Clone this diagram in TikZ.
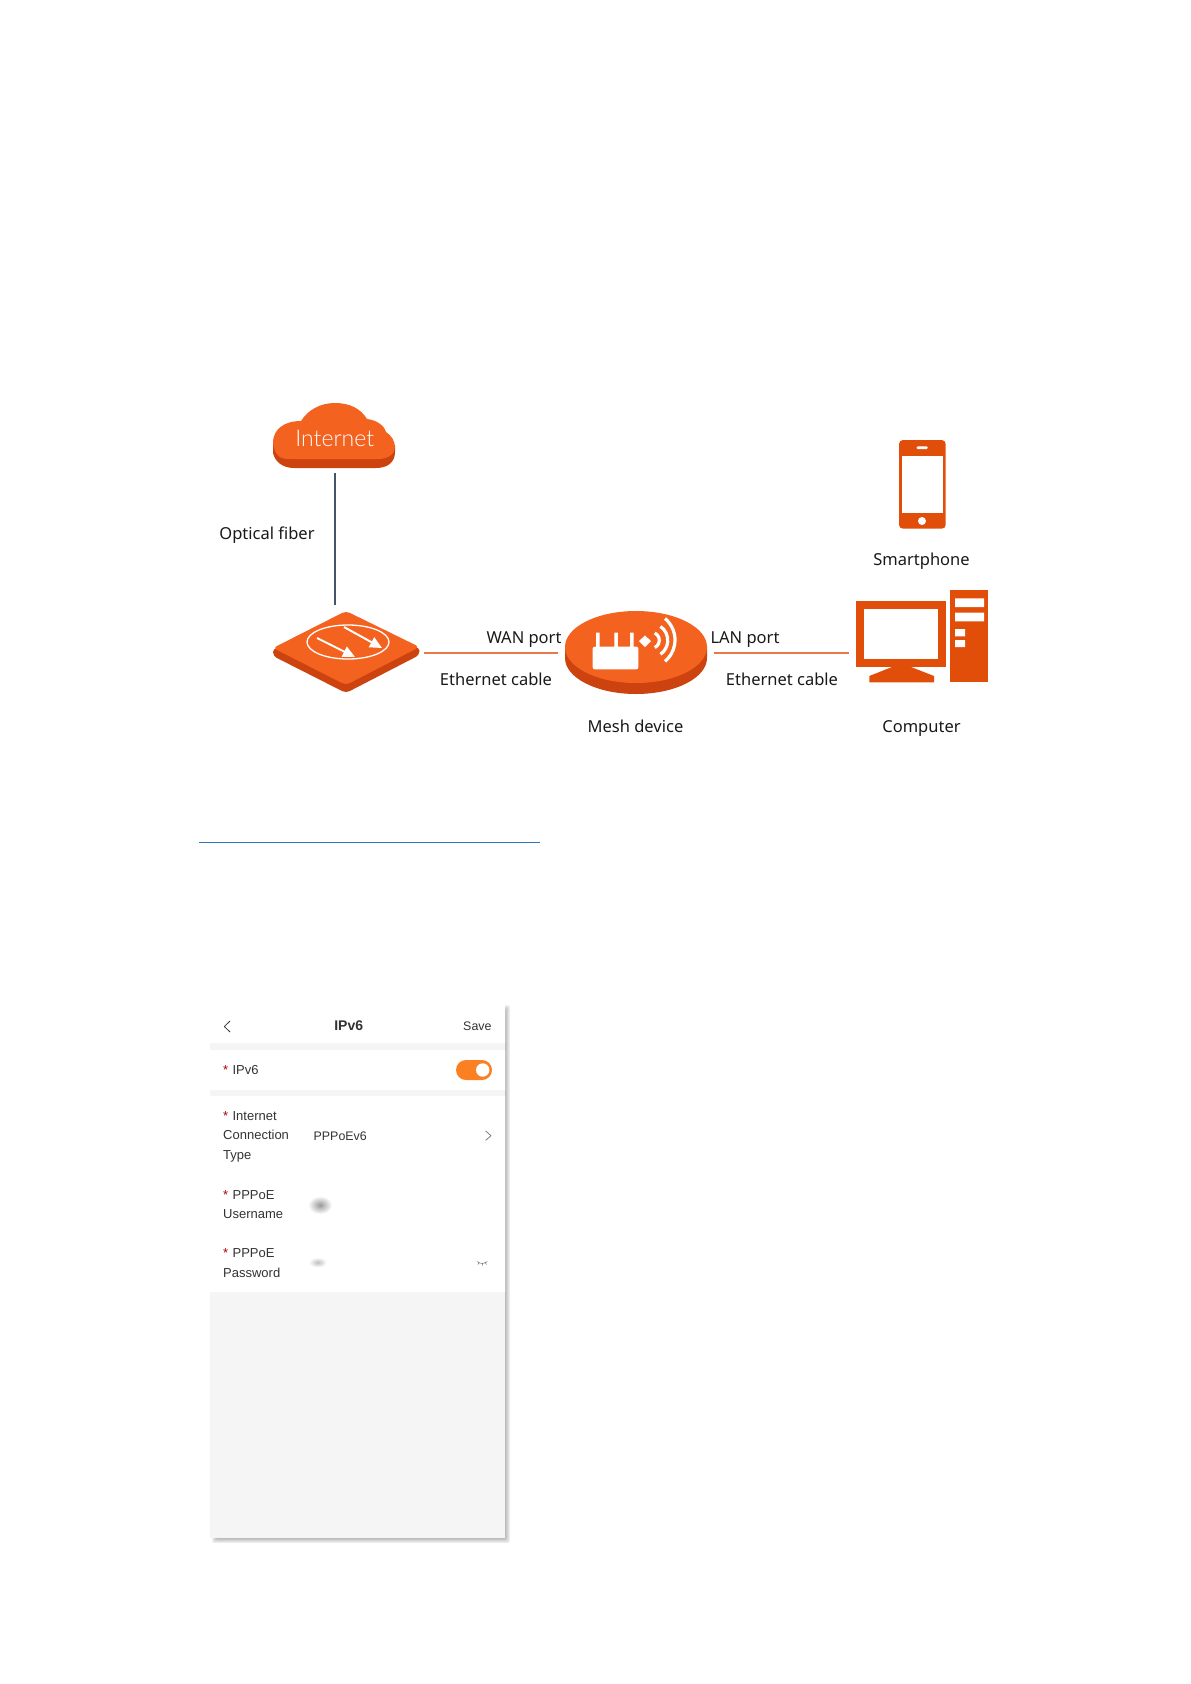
\documentclass[tikz,border=0pt]{standalone}
\usepackage{fontspec}
\setmainfont{Noto Sans}
\newfontfamily\cloudfont{Lato Light}
\newfontfamily\appfont{Liberation Sans}
\usepackage{tikz}
\usetikzlibrary{arrows.meta,positioning,calc}
\definecolor{orangetop}{HTML}{F4621F}
\definecolor{orangeside}{HTML}{CC4310}
\definecolor{pcorange}{HTML}{E04E0A}
\definecolor{cableorange}{HTML}{E9794A}
\definecolor{fiberblue}{HTML}{44546A}
\definecolor{linkblue}{HTML}{2E75B6}
\definecolor{appgray}{HTML}{F5F5F5}
\definecolor{apptext}{HTML}{333333}
\definecolor{togglebg}{HTML}{FB7F23}
\newcommand{\req}{{\color{red!70!black}*}\,\,}

\begin{document}
\begin{tikzpicture}[
  x=1pt, y=-1pt,
  lb/.style={inner sep=0pt, text height=12pt, text depth=4pt, text=black!90, font=\fontsize{16.5}{20}\selectfont},
  ic/.style={inner sep=0pt},
  apl/.style={inner sep=0pt, anchor=west, align=left, text=apptext, font=\appfont\fontsize{13}{19.6}\selectfont},
  apv/.style={apl, font=\appfont\fontsize{12.4}{16}\selectfont},
  cable/.style={draw=cableorange, line width=2pt},
  fiber/.style={draw=fiberblue, line width=2pt},
  wa/.style={draw=white, line width=2pt, -{Triangle[length=12pt,width=11pt]}},
  wv/.style={draw=white, line width=3.2pt},
  ch/.style={line width=0.8pt, line join=round}
]
\useasboundingbox (0,0) rectangle (1191,1684);

% cloud
\path[fill=orangeside] (273,443) -- (273,453) .. controls (275,462) and (283,468) .. (294,468) -- (376,468) .. controls (388,468) and (395,462) .. (395,452) -- (395,445) -- cycle;
\path[fill=orangetop] (280,457) .. controls (275,454) and (273,447) .. (273,441) .. controls (274,430) and (283,421) .. (301,421) .. controls (308,410) and (320,403) .. (335,403) .. controls (350,403) and (361,409) .. (367,419) .. controls (376,420) and (384,425) .. (386,432) .. controls (391,435) and (395,441) .. (395,447) .. controls (395,454) and (388,459) .. (378,459) -- (292,459) .. controls (287,459) and (283,459) .. (280,457) -- cycle;
\node[ic, minimum width=122pt, minimum height=60pt, text=white, font=\cloudfont\fontsize{23}{28}\selectfont] (cloud) at (334.7,438) {Internet};

% modem
\path[fill=orangeside, rounded corners=4pt] (273,648) -- (273,656) -- (346,693) -- (419.5,655) -- (419.5,647) -- (346,660) -- cycle;
\path[fill=orangetop, rounded corners=4pt] (273,648) -- (346,611) -- (419.5,647) -- (346,685) -- cycle;
\draw[white, line width=1.3pt] (348,642) ellipse (41 and 17);
\draw[wa] (317,638) -- (355,657);
\draw[wa] (344,627) -- (382,648);
\node[ic, minimum width=147pt, minimum height=82pt] (modem) at (346,652.7) {};

% mesh
\path[fill=orangeside] (565,647) -- (565,658) arc[start angle=180, end angle=0, x radius=71, y radius=36] -- (707,647) -- cycle;
\path[fill=orangetop] (636,647) ellipse (71 and 36);
\path[fill=white, rounded corners=2pt] (592.7,646.7) rectangle (638.3,669.3);
\path[fill=white] (596,632.7) rectangle (599.5,650) (614.3,632.7) rectangle (617.8,650) (630,632.7) rectangle (633.5,650);
\path[fill=white] (639,641) -- (645,635.5) -- (651,641) -- (645,647) -- cycle;
\draw[wv] (654.7,633) arc[start angle=-65, end angle=65, radius=8];
\draw[wv] (660.5,626.4) arc[start angle=-55, end angle=55, radius=17];
\draw[wv] (665,618.5) arc[start angle=-50, end angle=50, radius=28];
\node[ic, minimum width=142pt, minimum height=83pt] (mesh) at (636,652.7) {};

% smartphone
\path[fill=pcorange, rounded corners=4pt] (899,440) rectangle (945.7,528.7);
\path[fill=white] (902,455.7) rectangle (942.7,513.3);
\path[fill=white, rounded corners=1pt] (916.7,446.3) rectangle (927.7,449);
\path[fill=white] (922,521) circle (4);
\node[ic, minimum width=47pt, minimum height=89pt] (phone) at (922.3,484.3) {};

% computer
\path[fill=pcorange] (856,601) rectangle (946,667.3);
\path[fill=white] (864.3,609) rectangle (938.3,659);
\path[fill=pcorange] (892,667) -- (911,667) -- (934,676) -- (934,682.3) -- (869.3,682.3) -- (869.3,676) -- cycle;
\path[fill=pcorange] (950,590.3) rectangle (987.7,682.3);
\path[fill=white] (955,598.3) rectangle (984,607) (955,612.7) rectangle (984,621.3) (955,629) rectangle (965,636.3) (955,640) rectangle (965,647);
\node[ic, minimum width=131.7pt, minimum height=59pt] (pc) at (921.85,652.7) {};

\draw[fiber, shorten <=5pt, shorten >=7pt] (cloud.south) -- (cloud.south |- modem.north);
\draw[cable, shorten <=4.5pt, shorten >=7pt] (modem.east) -- (mesh.west);
\draw[cable, shorten <=7pt, shorten >=7pt] (mesh.east) -- (pc.west);

\node[lb] (optical) at (267,535.4) {Optical fiber};
\node[lb] (wan) at (524,639) {WAN port};
\node[lb] (eth1) at (496,681) {Ethernet cable};
\node[lb] (lan) at (745,639) {LAN port};
\node[lb] (eth2) at (782,681) {Ethernet cable};
\node[lb] (meshl) at (635.5,728) {Mesh device};
\node[lb] (pcl) at (921.5,728) {Computer};
\node[lb] (phonel) at (921.5,561.3) {Smartphone};

% link rule
\coordinate (rulea) at (199,842);
\coordinate (ruleb) at (540,842);
\draw[linkblue, line width=1pt] (rulea) -- (ruleb);

% app screen
\foreach \d in {0,1,...,4}
  \path[fill=black, fill opacity=0.06, rounded corners=2pt] (212+\d,1005+\d) rectangle (510-\d,1543-\d);
\path[fill=appgray] (210,1003) rectangle (505,1538);
\path[fill=white] (210,1003) rectangle (505,1043) (210,1050) rectangle (505,1090) (210,1096) rectangle (505,1292);

\draw[ch, apptext] (230,1021) -- (224.3,1026.5) -- (230,1032);
\node[apl, anchor=center, font=\appfont\bfseries\fontsize{14}{16}\selectfont] (title) at (348.7,1025.7) {IPv6};
\node[apv, anchor=east] (save) at (491.7,1026) {Save};

\node[apl] (v6) at (223,1070) {\req IPv6};
\path[fill=togglebg, rounded corners=10pt] (456,1060) rectangle (492,1080);
\path[fill=white] (482.7,1070) circle (6.7);

\node[apl] (ctype) at (223,1136.8) {\req Internet\\Connection\\Type};
\node[apv] (ctypev) at (313.5,1136) {PPPoEv6};
\draw[ch, black!50] (485.7,1131) -- (491,1135.7) -- (485.7,1140.3);

\node[apl] (user) at (223,1204.7) {\req PPPoE\\Username};
\shade[inner color=black!40, outer color=white, shading=radial] (320,1205) ellipse (12 and 9);

\node[apl] (pass) at (223,1263.2) {\req PPPoE\\Password};
\shade[inner color=black!25, outer color=white, shading=radial] (317.7,1262.3) ellipse (9 and 5);
\draw[black!60, line width=0.5pt] (477.3,1261.5) .. controls (480,1264) and (484,1264) .. (487.3,1261.5) (479,1263) -- (478,1264.5) (482.3,1263.5) -- (482.3,1265.5) (485.5,1263) -- (486.5,1264.5);
\end{tikzpicture}
\end{document}
